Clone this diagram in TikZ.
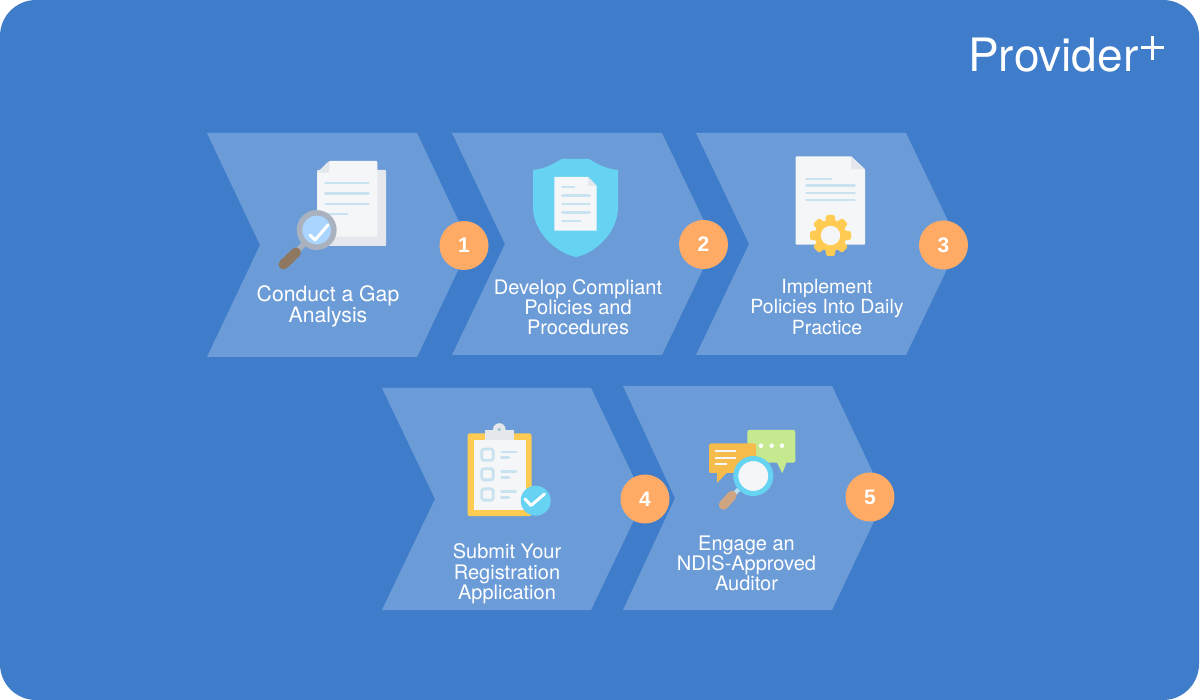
\documentclass[tikz,border=0pt]{standalone}
\usepackage{fontspec}
\setmainfont{TeX Gyre Heros}
\newfontfamily\numfont{Liberation Sans}
\definecolor{bgblue}{HTML}{3F7DCB}
\definecolor{chev}{HTML}{6C9CD7}
\definecolor{badge}{HTML}{FFAB66}
\definecolor{paper}{HTML}{F5F6F8}
\definecolor{paperb}{HTML}{E4E7EB}
\definecolor{lineb}{HTML}{C9E2EF}
\definecolor{sky}{HTML}{66D3F2}
\definecolor{gold}{HTML}{FFCB52}
\definecolor{amber}{HTML}{F5BC4C}
\definecolor{lime}{HTML}{C6E98F}
\definecolor{greyr}{HTML}{AAB2BF}
\definecolor{brownh}{HTML}{8F7760}
\definecolor{tanh}{HTML}{CFA581}
\definecolor{lens}{HTML}{A9D5FF}
\tikzset{
  x=1pt,y=-1pt,
  chevron/.style={fill=chev,draw=none},
  badgenode/.style={circle,fill=badge,minimum size=49pt,inner sep=0pt,text=white,font=\numfont\fontsize{21}{21}\selectfont\bfseries},
  steplabel/.style={text=white,align=center,inner sep=0pt,font=\fontsize{20}{20.3}\selectfont},
  tline/.style={line width=2.7pt,draw=lineb,line cap=round},
  wline/.style={line width=2.2pt,draw=paper},
  check/.style={draw=white,line width=3pt,line cap=round,line join=round}
}
\begin{document}
\begin{tikzpicture}
\useasboundingbox (0,0) rectangle (1200,700);
\fill[white] (0,0) rectangle (1200,700);
\fill[bgblue,rounded corners=36pt] (0,0) rectangle (1199,700);
% chevrons
\fill[chevron] (207,133)--(417,133)--(470,245)--(417,357)--(207,357)--(260,245)--cycle;
\fill[chevron] (452,133)--(662,133)--(715,244)--(662,355)--(452,355)--(505,244)--cycle;
\fill[chevron] (696,133)--(906,133)--(959,244)--(906,355)--(696,355)--(749,244)--cycle;
\fill[chevron] (382,388)--(591,388)--(644,499)--(591,610)--(382,610)--(435,499)--cycle;
\fill[chevron] (623,386)--(832,386)--(885,498)--(832,610)--(623,610)--(675,498)--cycle;
% badges
\node[badgenode] (b1) at (464,245.5) {1};
\node[badgenode] (b2) at (703.5,244.5) {2};
\node[badgenode] (b3) at (943.5,245) {3};
\node[badgenode] (b4) at (645,499) {4};
\node[badgenode] (b5) at (870,497) {5};
% labels
\node[steplabel,font=\fontsize{21.2}{21}\selectfont] (t1) at (328,306.5) {Conduct a Gap\\Analysis};
\node[steplabel] (t2) at (578,307) {Develop Compliant\\Policies and\\Procedures};
\node[steplabel,font=\fontsize{19.5}{20.3}\selectfont] (t3) at (827,307) {Implement\\Policies Into Daily\\Practice};
\node[steplabel] (t4) at (507,574) {Submit Your\\Registration\\Application};
\node[steplabel] (t5) at (746.5,563.5) {Engage an\\NDIS-Approved\\Auditor};
% logo
\node[text=white,inner sep=0pt,anchor=base west,font=\fontsize{46}{46}\selectfont] (logo) at (968,72) {Provider};
\draw[white,line width=3pt] (1141,48)--(1164,48) (1152.5,36.5)--(1152.5,60);
% icon 1
\fill[paperb,rounded corners=1pt] (317,170)--(386,170)--(386,246)--(317,246)--cycle;
\fill[paper,rounded corners=1pt] (329.3,161)--(377.3,161)--(377.3,236.7)--(317.3,236.7)--(317.3,172.7)--cycle;
\fill[paperb] (329.3,161)--(329.3,172.7)--(317.3,172.7)--cycle;
\foreach \yy/\xe in {183/368.5,193.5/368.5,204/368.5,214/347}{\draw[tline] (325.5,\yy)--(\xe,\yy);}
\draw[line width=5.5pt,draw=greyr] (304,244)--(297,251);
\draw[line width=10pt,draw=brownh,line cap=round] (296,252.5)--(283.5,264.5);
\draw[line width=5.5pt,draw=greyr,fill=lens] (316.7,230) circle (17.2);
\draw[check] (310,235)--(315,240)--(328,225);
% icon 2
\fill[sky] (533,170) .. controls (545,169) and (553,164) .. (561.7,159) -- (589,159)
  .. controls (597,164) and (606,169) .. (618,170) -- (618,207)
  .. controls (618,232) and (596,253) .. (576,257) .. controls (556,253) and (533,232) .. (533,207) -- cycle;
\fill[paper] (554.3,177)--(588,177)--(596.7,186)--(596.7,230.7)--(554.3,230.7)--cycle;
\fill[paperb] (588,177)--(596.7,186)--(588,186)--cycle;
\foreach \yy/\xe in {187/574,195.3/589.5,204/589.5,212.3/589.5,221/580}{\draw[tline] (562.5,\yy)--(\xe,\yy);}
% icon 3
\fill[paper,rounded corners=.8pt] (795.7,156.3)--(851,156.3)--(865,169.3)--(865,244.7)--(795.7,244.7)--cycle;
\fill[paperb] (851,156.3)--(865,169.3)--(851,169.3)--cycle;
\draw[tline] (806.5,179)--(831,179);
\foreach \yy in {185.5,193,200}{\draw[tline] (806.5,\yy)--(854.5,\yy);}
\fill[gold] (830.5,235.5) circle (15.5);
\foreach \a in {0,45,...,315}{\fill[gold,rotate around={\a:(830.5,235.5)},rounded corners=1.2pt] (826.5,215)--(834.5,215)--(836,223)--(825,223)--cycle;}
\fill[paper] (830.5,235.5) circle (9.7);
% icon 4
\fill[gold,rounded corners=2pt] (467.5,433.5) rectangle (531.5,516);
\fill[paper] (473.5,440) rectangle (525.5,510);
\fill[paperb] (485,430) rectangle (514,440);
\fill[paperb] (499.3,429.5) circle (6.3);
\fill[greyr!70!sky] (499.3,429.5) circle (1.6);
\foreach \yy in {454.7,474.3,494.5}{
  \draw[lineb,line width=2.8pt,rounded corners=2.5pt] (481.7,\yy-5.6)rectangle(493.3,\yy+5.6);
  \draw[tline] (501.5,\yy-2.8)--(516,\yy-2.8);
  \draw[tline] (501.5,\yy+3)--(509,\yy+3);
}
\fill[sky] (535.7,500.7) circle (15);
\draw[check] (525,499)--(531,505.5)--(544.5,494);
% icon 5
\fill[lime,rounded corners=2pt] (747.3,430) rectangle (795.3,462.7);
\fill[lime] (776.7,462)--(786.7,462)--(782.3,473.3)--cycle;
\fill[white!95!lime] (761,445.7) circle (2.3) (771.7,445.7) circle (2.3) (782,445.7) circle (2.3);
\fill[amber,rounded corners=2pt] (709,443.5) rectangle (756,473);
\fill[amber] (717,472)--(727.5,472)--(717,483)--cycle;
\foreach \yy/\xe in {450.7/736,457.7/736,464.3/727}{\draw[wline] (715,\yy)--(\xe,\yy);}
\draw[line width=4pt,draw=paperb!70!sky] (739,489)--(734,494);
\draw[line width=9.5pt,draw=tanh,line cap=round] (732,495.5)--(723.5,505);
\draw[line width=5pt,draw=sky,fill=paper] (753.3,476) circle (17.5);
\end{tikzpicture}
\end{document}
